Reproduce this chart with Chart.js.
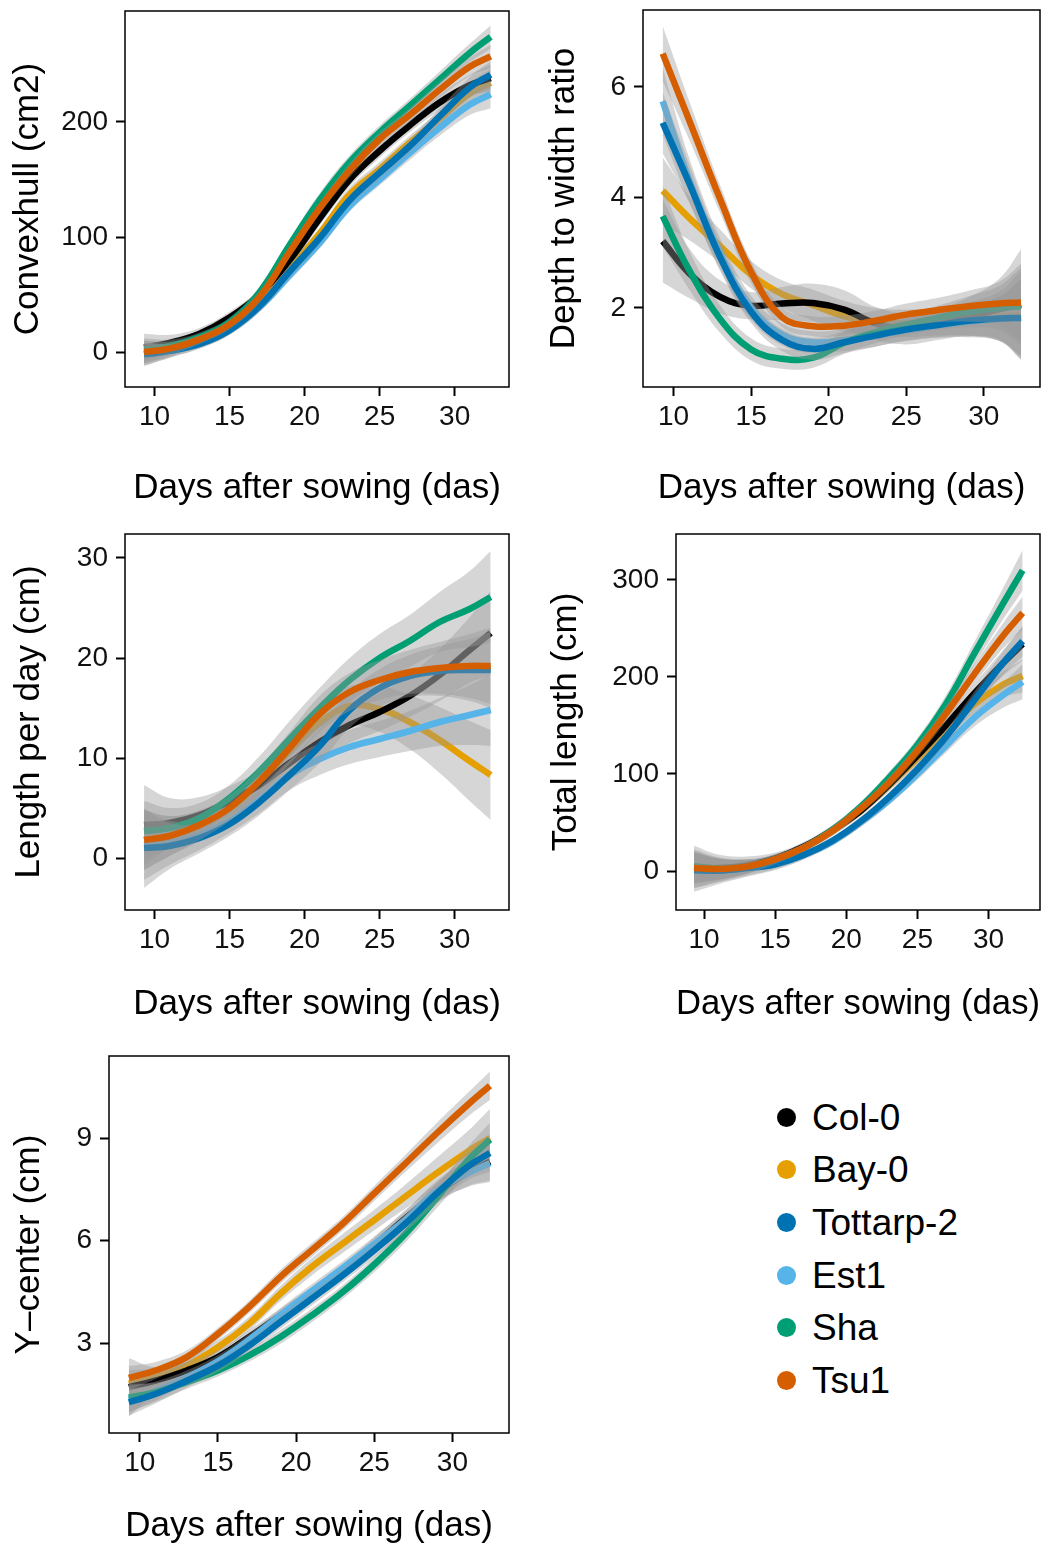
<!DOCTYPE html>
<html>
<head>
<meta charset="utf-8">
<script src="https://cdn.jsdelivr.net/npm/chart.js@4.4.1/dist/chart.umd.min.js"></script>
<style>
  body { margin: 0; background: #fff; width: 1044px; height: 1546px; position: relative; overflow: hidden;
         font-family: "Liberation Sans", Arial, Helvetica, sans-serif; }
  canvas { position: absolute; }
  #legend { position: absolute; left: 777px; top: 1091px; }
  .row { display: flex; align-items: center; height: 52.6px; }
  .dot { width: 19px; height: 19px; border-radius: 50%; margin-right: 16px; }
  .lab { font-size: 37px; line-height: 1; color: #000; }
</style>
</head>
<body>
<canvas id="convex"></canvas>
<canvas id="depth"></canvas>
<canvas id="lpd"></canvas>
<canvas id="total"></canvas>
<canvas id="ycenter"></canvas>
<div id="legend"></div>

<script>
// ---- data ----
const seriesNames  = ['Col-0', 'Bay-0', 'Tottarp-2', 'Est1', 'Sha', 'Tsu1'];
const seriesColors = ['#000000', '#E69F00', '#0072B2', '#56B4E9', '#009E73', '#D55E00'];

const days     = [9.3, 11, 13, 15, 17, 19, 21, 23, 25, 27, 29, 31, 32.4];
const dayTicks = [10, 15, 20, 25, 30];

// Convexhull (cm2)
const convexTicks = [0, 100, 200];
const convexCol0  = [4, 8, 16, 30, 50, 80, 116, 150, 175, 197, 217, 232, 238];
const convexBay0  = [0, 2, 9, 21, 42, 72, 103, 137, 159, 182, 203, 225, 234];
const convexTott  = [-2, 1, 7, 19, 40, 70, 99, 132, 156, 179, 205, 230, 241];
const convexEst1  = [-2, 1, 7, 19, 39, 67, 95, 127, 150, 173, 195, 215, 224];
const convexSha   = [2, 5, 13, 26, 52, 93, 132, 165, 191, 214, 237, 260, 274];
const convexTsu1  = [0, 3, 11, 24, 48, 87, 125, 158, 185, 206, 228, 248, 257];
const convexSeCol0 = [12, 7, 5, 5, 5, 6, 6, 6, 6, 6, 7, 9, 12];
const convexSeBay0 = [10, 6, 4, 4, 5, 5, 5, 6, 6, 6, 7, 9, 12];
const convexSeTott = [10, 6, 4, 4, 5, 5, 5, 5, 6, 6, 7, 9, 12];
const convexSeEst1 = [10, 6, 4, 4, 4, 5, 5, 5, 5, 6, 7, 9, 12];
const convexSeSha  = [10, 6, 4, 4, 5, 5, 6, 6, 6, 6, 7, 8, 10];
const convexSeTsu1 = [10, 6, 4, 4, 5, 5, 5, 6, 6, 6, 7, 8, 10];

// Depth to width ratio
const depthTicks = [2, 4, 6];
const depthCol0  = [3.21, 2.63, 2.2, 2.04, 2.08, 2.09, 1.97, 1.72, 1.62, 1.7, 1.84, 1.98, 2.06];
const depthBay0  = [4.12, 3.63, 3.12, 2.6, 2.25, 2.05, 1.85, 1.75, 1.72, 1.75, 1.8, 1.85, 1.87];
const depthTott  = [5.35, 4.26, 2.92, 1.93, 1.42, 1.26, 1.38, 1.5, 1.61, 1.69, 1.77, 1.81, 1.82];
const depthEst1  = [5.74, 4.32, 2.98, 2.0, 1.52, 1.38, 1.42, 1.5, 1.6, 1.68, 1.75, 1.8, 1.82];
const depthSha   = [3.66, 2.69, 1.8, 1.25, 1.08, 1.1, 1.37, 1.56, 1.7, 1.82, 1.93, 2.0, 2.03];
const depthTsu1  = [6.6, 5.4, 3.97, 2.65, 1.83, 1.67, 1.68, 1.77, 1.88, 1.96, 2.03, 2.08, 2.1];
const depthSeCol0 = [0.75, 0.45, 0.3, 0.25, 0.3, 0.35, 0.35, 0.3, 0.28, 0.28, 0.35, 0.55, 1.0];
const depthSeBay0 = [0.6, 0.4, 0.3, 0.25, 0.25, 0.28, 0.28, 0.25, 0.25, 0.25, 0.3, 0.45, 0.8];
const depthSeTott = [0.55, 0.35, 0.25, 0.2, 0.2, 0.2, 0.2, 0.2, 0.2, 0.22, 0.28, 0.4, 0.7];
const depthSeEst1 = [0.6, 0.4, 0.28, 0.22, 0.2, 0.2, 0.2, 0.2, 0.2, 0.22, 0.28, 0.4, 0.7];
const depthSeSha  = [0.55, 0.35, 0.25, 0.2, 0.18, 0.18, 0.2, 0.2, 0.2, 0.22, 0.28, 0.4, 0.7];
const depthSeTsu1 = [0.5, 0.35, 0.25, 0.2, 0.18, 0.18, 0.18, 0.18, 0.2, 0.22, 0.28, 0.4, 0.7];

// Length per day (cm)
const lpdTicks = [0, 10, 20, 30];
const lpdCol0  = [3.3, 3.5, 4.3, 5.7, 7.3, 9.5, 11.6, 13.3, 14.6, 16.2, 18.3, 20.8, 22.5];
const lpdBay0  = [1.8, 2.2, 3.2, 4.9, 7.5, 10.7, 13.5, 15.2, 14.9, 13.6, 11.8, 9.7, 8.3];
const lpdTott  = [1.0, 1.2, 2.0, 3.4, 5.6, 8.3, 11.2, 14.8, 17.0, 18.2, 18.7, 18.8, 18.8];
const lpdEst1  = [1.3, 1.5, 2.3, 3.7, 5.8, 8.3, 9.9, 11.1, 11.9, 12.7, 13.6, 14.3, 14.8];
const lpdSha   = [2.7, 3.0, 4.0, 6.0, 8.7, 11.9, 15.0, 17.8, 20.0, 21.7, 23.6, 24.9, 26.1];
const lpdTsu1  = [1.8, 2.2, 3.3, 5.0, 7.7, 11.0, 14.4, 16.6, 17.8, 18.6, 19.0, 19.2, 19.2];
const lpdSeCol0 = [4.0, 2.5, 1.8, 1.5, 1.5, 1.7, 1.8, 1.8, 1.9, 2.1, 2.6, 3.3, 4.2];
const lpdSeBay0 = [3.0, 2.0, 1.5, 1.3, 1.4, 1.6, 1.8, 2.0, 2.3, 2.7, 3.3, 4.0, 4.5];
const lpdSeTott = [4.0, 2.3, 1.5, 1.2, 1.3, 1.5, 1.7, 1.8, 1.9, 2.1, 2.5, 3.1, 3.8];
const lpdSeEst1 = [3.5, 2.2, 1.5, 1.2, 1.3, 1.5, 1.6, 1.7, 1.8, 2.0, 2.4, 3.0, 3.6];
const lpdSeSha  = [3.0, 2.0, 1.5, 1.3, 1.5, 1.8, 2.0, 2.2, 2.4, 2.6, 3.0, 3.8, 4.6];
const lpdSeTsu1 = [3.0, 2.0, 1.5, 1.3, 1.4, 1.6, 1.8, 1.9, 2.0, 2.2, 2.6, 3.2, 3.8];

// Total length (cm)
const totalTicks = [0, 100, 200, 300];
const totalCol0  = [4, 3, 6, 13, 25, 42, 62, 89, 119, 150, 183, 214, 234];
const totalBay0  = [3, 2, 5, 12, 24, 41, 62, 88, 116, 145, 172, 192, 201];
const totalTott  = [0.7, 0.3, 3, 7, 16.5, 31, 51, 76, 105, 138, 176, 214, 237];
const totalEst1  = [0.5, 0.3, 3, 7, 16.5, 30, 50, 73, 100, 129, 158, 181, 195];
const totalSha   = [5, 2.5, 4.5, 12, 24, 42, 66, 96, 130, 172, 224, 275, 310];
const totalTsu1  = [3, 2, 4.5, 12, 24, 41, 64, 91, 124, 162, 203, 242, 266];
const totalSeCol0 = [22, 14, 9, 6, 5, 5, 5, 6, 7, 8, 10, 13, 17];
const totalSeBay0 = [16, 11, 7, 5, 4, 5, 5, 6, 7, 8, 10, 13, 17];
const totalSeTott = [18, 12, 8, 5, 4, 4, 5, 5, 6, 7, 9, 12, 16];
const totalSeEst1 = [22, 14, 9, 6, 5, 4, 5, 5, 6, 7, 9, 13, 18];
const totalSeSha  = [16, 11, 7, 5, 4, 5, 5, 6, 7, 9, 12, 16, 21];
const totalSeTsu1 = [16, 11, 7, 5, 4, 5, 5, 6, 7, 8, 10, 13, 17];

// Y-center (cm)
const ycTicks = [3, 6, 9];
const ycCol0  = [1.71, 1.9, 2.2, 2.59, 3.18, 3.81, 4.45, 5.13, 5.87, 6.65, 7.4, 8.0, 8.31];
const ycBay0  = [1.81, 2.0, 2.34, 2.88, 3.57, 4.45, 5.23, 5.92, 6.6, 7.29, 7.97, 8.61, 9.0];
const ycTott  = [1.27, 1.51, 1.9, 2.34, 2.93, 3.62, 4.3, 4.99, 5.72, 6.5, 7.38, 8.17, 8.56];
const ycEst1  = [1.35, 1.6, 2.0, 2.47, 3.1, 3.82, 4.52, 5.2, 5.9, 6.62, 7.45, 7.97, 8.26];
const ycSha   = [1.41, 1.56, 1.86, 2.2, 2.64, 3.18, 3.81, 4.5, 5.3, 6.2, 7.25, 8.35, 8.95];
const ycTsu1  = [1.98, 2.2, 2.59, 3.27, 4.06, 4.94, 5.72, 6.5, 7.38, 8.26, 9.14, 9.98, 10.53];
const ycSeCol0 = [0.85, 0.4, 0.25, 0.2, 0.2, 0.2, 0.2, 0.2, 0.22, 0.25, 0.3, 0.4, 0.55];
const ycSeBay0 = [0.4, 0.28, 0.22, 0.2, 0.2, 0.22, 0.25, 0.28, 0.3, 0.35, 0.45, 0.6, 0.85];
const ycSeTott = [0.4, 0.28, 0.2, 0.18, 0.18, 0.2, 0.2, 0.2, 0.22, 0.25, 0.3, 0.4, 0.55];
const ycSeEst1 = [0.4, 0.28, 0.2, 0.18, 0.18, 0.2, 0.2, 0.2, 0.22, 0.25, 0.3, 0.4, 0.55];
const ycSeSha  = [0.4, 0.28, 0.2, 0.18, 0.18, 0.2, 0.2, 0.2, 0.22, 0.25, 0.3, 0.4, 0.5];
const ycSeTsu1 = [0.35, 0.25, 0.2, 0.18, 0.18, 0.2, 0.2, 0.2, 0.22, 0.25, 0.3, 0.35, 0.42];

// ---- styling / layout ----
const FONT = '"Liberation Sans", Arial, Helvetica, sans-serif';
const RIBBON = 'rgba(153,153,153,0.4)';
const X_MIN = 8.03, X_MAX = 33.62;
const TICK_LEN = 9;
const CURVE = 0.4;
// stacking position of each series (0 = drawn first / bottom); groups are painted alphabetically
const stackPos = [1, 0, 4, 2, 3, 5];

// box = canvas [x, y, w, h]; area = plot panel [left, top, right, bottom] in page pixels
const panels = [
  { id: 'convex', box: [0, 0, 522, 522], area: [125, 11, 509, 387], yTitle: 'Convexhull (cm2)',
    yTitleX: 28, xTitleY: 488.5, yMin: -30.4, yMax: 296.5, yTicks: convexTicks,
    means: [convexCol0, convexBay0, convexTott, convexEst1, convexSha, convexTsu1],
    ses: [convexSeCol0, convexSeBay0, convexSeTott, convexSeEst1, convexSeSha, convexSeTsu1] },
  { id: 'depth', box: [522, 0, 522, 522], area: [643, 10, 1040, 387], yTitle: 'Depth to width ratio',
    yTitleX: 564, xTitleY: 488.5, yMin: 0.57, yMax: 7.39, yTicks: depthTicks,
    means: [depthCol0, depthBay0, depthTott, depthEst1, depthSha, depthTsu1],
    ses: [depthSeCol0, depthSeBay0, depthSeTott, depthSeEst1, depthSeSha, depthSeTsu1] },
  { id: 'lpd', box: [0, 522, 522, 522], area: [125, 534, 509, 910], yTitle: 'Length per day (cm)',
    yTitleX: 29, xTitleY: 1004, yMin: -5.2, yMax: 32.4, yTicks: lpdTicks,
    means: [lpdCol0, lpdBay0, lpdTott, lpdEst1, lpdSha, lpdTsu1],
    ses: [lpdSeCol0, lpdSeBay0, lpdSeTott, lpdSeEst1, lpdSeSha, lpdSeTsu1] },
  { id: 'total', box: [522, 522, 522, 522], area: [676, 534, 1040, 910], yTitle: 'Total length (cm)',
    yTitleX: 566, xTitleY: 1004, yMin: -40.2, yMax: 347.4, yTicks: totalTicks,
    means: [totalCol0, totalBay0, totalTott, totalEst1, totalSha, totalTsu1],
    ses: [totalSeCol0, totalSeBay0, totalSeTott, totalSeEst1, totalSeSha, totalSeTsu1] },
  { id: 'ycenter', box: [0, 1024, 522, 522], area: [109, 1056, 509, 1433], yTitle: 'Y\u2013center (cm)',
    yTitleX: 29, xTitleY: 1526.5, yMin: 0.37, yMax: 11.4, yTicks: ycTicks,
    means: [ycCol0, ycBay0, ycTott, ycEst1, ycSha, ycTsu1],
    ses: [ycSeCol0, ycSeBay0, ycSeTott, ycSeEst1, ycSeSha, ycSeTsu1] }
];

// black box around each plotting panel
const framePlugin = {
  id: 'frame',
  afterDatasetsDraw(chart) {
    const { ctx, chartArea: a } = chart;
    ctx.save();
    ctx.strokeStyle = '#000';
    ctx.lineWidth = 1.5;
    ctx.strokeRect(a.left, a.top, a.right - a.left, a.bottom - a.top);
    ctx.restore();
  }
};

// ribbon (upper, lower filled to upper) then line for each series
function buildDatasets(means, ses) {
  const sets = [];
  const n = means.length;
  means.forEach((m, i) => {
    const rank = (n - 1 - stackPos[i]) * 3;   // higher order is painted earlier
    const se = ses[i];
    sets.push({
      data: days.map((d, k) => ({ x: d, y: m[k] + se[k] })),
      borderColor: 'rgba(0,0,0,0)', borderWidth: 0, pointRadius: 0, fill: false,
      tension: CURVE, order: rank + 1
    });
    sets.push({
      data: days.map((d, k) => ({ x: d, y: m[k] - se[k] })),
      borderColor: 'rgba(0,0,0,0)', borderWidth: 0, pointRadius: 0,
      fill: '-1', backgroundColor: RIBBON,
      tension: CURVE, order: rank + 2
    });
    sets.push({
      label: seriesNames[i],
      data: days.map((d, k) => ({ x: d, y: m[k] })),
      borderColor: seriesColors[i], borderWidth: 6.5, pointRadius: 0, fill: false,
      tension: CURVE, order: rank
    });
  });
  return sets;
}

function makePanel(p) {
  const [bx, by, bw, bh] = p.box;
  const [al, at, ar, ab] = p.area;
  const canvas = document.getElementById(p.id);
  canvas.style.left = bx + 'px';
  canvas.style.top = by + 'px';
  canvas.width = bw;
  canvas.height = bh;

  const yAxisWidth = al - bx;
  const xAxisHeight = by + bh - ab;
  const titleSize = 35, tickSize = 28;

  new Chart(canvas, {
    type: 'line',
    data: { datasets: buildDatasets(p.means, p.ses) },
    plugins: [framePlugin],
    options: {
      responsive: false,
      animation: false,
      devicePixelRatio: 1,
      layout: { padding: { left: 0, top: at - by, right: bx + bw - ar, bottom: 0 } },
      plugins: { legend: { display: false }, tooltip: { enabled: false } },
      scales: {
        x: {
          type: 'linear', position: 'bottom', min: X_MIN, max: X_MAX, bounds: 'data',
          afterBuildTicks: s => { s.ticks = dayTicks.map(v => ({ value: v })); },
          afterFit: s => { s.height = xAxisHeight; s.paddingLeft = 0; s.paddingRight = 0; },
          border: { display: false },
          grid: { drawOnChartArea: false, drawTicks: true, tickLength: TICK_LEN, tickWidth: 2, tickColor: '#000' },
          ticks: { color: '#111', autoSkip: false, maxRotation: 0, padding: 7,
                   font: { family: FONT, size: tickSize, lineHeight: 1 } },
          title: { display: true, text: 'Days after sowing (das)', color: '#000',
                   font: { family: FONT, size: titleSize, lineHeight: 1 },
                   padding: { top: 0, bottom: (by + bh) - p.xTitleY - titleSize / 2 } }
        },
        y: {
          type: 'linear', position: 'left', min: p.yMin, max: p.yMax, bounds: 'data',
          afterBuildTicks: s => { s.ticks = p.yTicks.map(v => ({ value: v })); },
          afterFit: s => { s.width = yAxisWidth; s.paddingTop = 0; s.paddingBottom = 0; },
          border: { display: false },
          grid: { drawOnChartArea: false, drawTicks: true, tickLength: TICK_LEN, tickWidth: 2, tickColor: '#000' },
          ticks: { color: '#111', padding: 8, font: { family: FONT, size: tickSize, lineHeight: 1 } },
          title: { display: true, text: p.yTitle, color: '#000',
                   font: { family: FONT, size: titleSize, lineHeight: 1 },
                   padding: { top: (p.yTitleX - bx) - titleSize / 2, bottom: 0 } }
        }
      }
    }
  });
}

panels.forEach(makePanel);

// legend
const legend = document.getElementById('legend');
seriesNames.forEach((name, i) => {
  const row = document.createElement('div');
  row.className = 'row';
  const dot = document.createElement('div');
  dot.className = 'dot';
  dot.style.background = seriesColors[i];
  const lab = document.createElement('div');
  lab.className = 'lab';
  lab.textContent = name;
  row.appendChild(dot);
  row.appendChild(lab);
  legend.appendChild(row);
});
</script>
</body>
</html>
